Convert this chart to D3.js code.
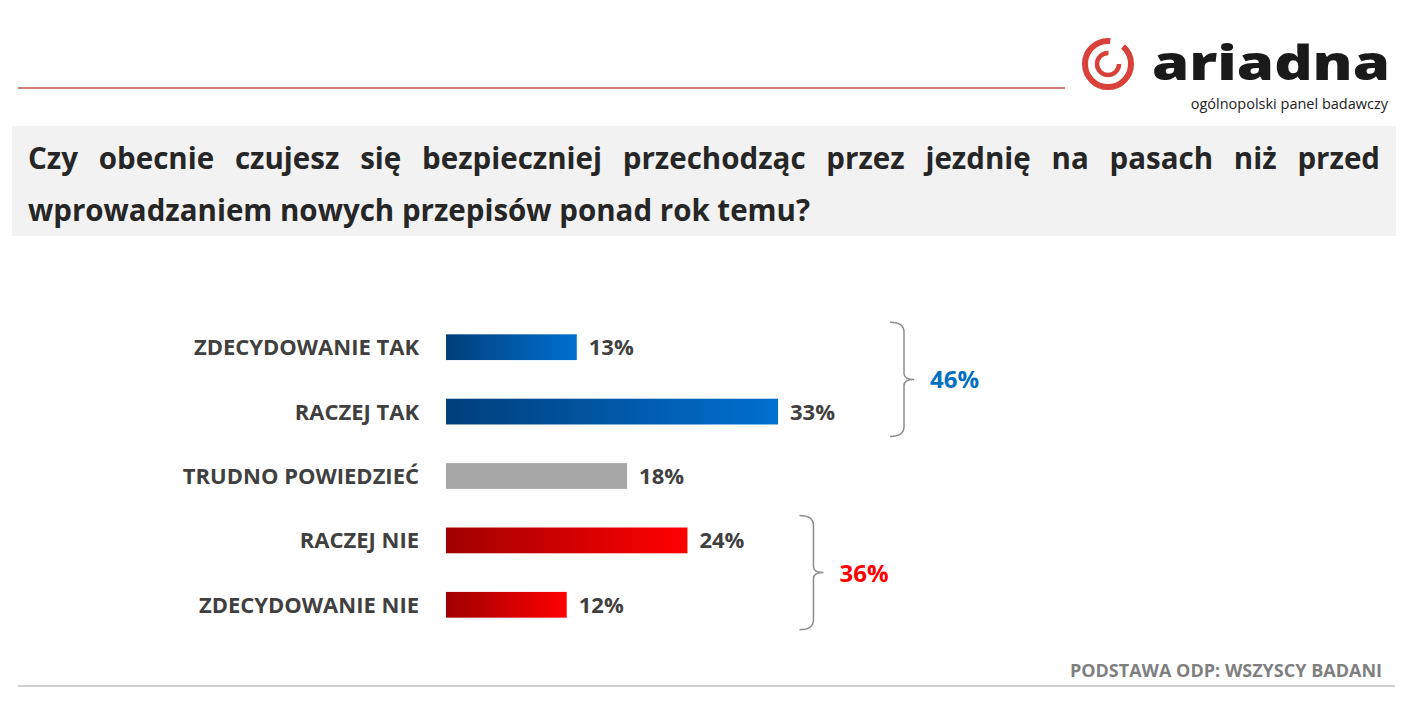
<!DOCTYPE html>
<html><head><meta charset="utf-8">
<script src="https://cdn.jsdelivr.net/npm/d3@7"></script>
<style>body{margin:0;background:#fff}svg{display:block;font-family:"Open Sans",sans-serif}</style>
</head><body>
<svg id="c" width="1410" height="705"></svg>
<script>
const categories = ["ZDECYDOWANIE TAK", "RACZEJ TAK", "TRUDNO POWIEDZIEĆ", "RACZEJ NIE", "ZDECYDOWANIE NIE"];
const values = [13, 33, 18, 24, 12];
const groups = [{label: "46%", from: 0, to: 1, color: "#0070c0"}, {label: "36%", from: 3, to: 4, color: "#ff0000"}];

const svg = d3.select("#c");
const defs = svg.append("defs");
const grads = {blue: ["#003f7a", "#0070d0"], grey: ["#a6a6a6", "#a6a6a6"], red: ["#a00000", "#ff0000"]};
Object.entries(grads).forEach(([k, c]) => {
  const g = defs.append("linearGradient").attr("id", "g-" + k);
  g.append("stop").attr("offset", 0).attr("stop-color", c[0]);
  g.append("stop").attr("offset", 1).attr("stop-color", c[1]);
});
const fillFor = i => i < 2 ? "url(#g-blue)" : i === 2 ? "url(#g-grey)" : "url(#g-red)";

// header
svg.append("line").attr("x1", 18).attr("x2", 1065).attr("y1", 88).attr("y2", 88).attr("stroke", "#c0504d").attr("stroke-width", 1.5);
const logo = svg.append("g");
logo.append("circle").attr("cx", 1108).attr("cy", 64).attr("r", 23).attr("fill", "none").attr("stroke", "#d8403a").attr("stroke-width", 6).attr("stroke-dasharray", "110 14");
logo.append("circle").attr("cx", 1108).attr("cy", 64).attr("r", 11).attr("fill", "none").attr("stroke", "#d8403a").attr("stroke-width", 4.5).attr("stroke-dasharray", "52 17");
logo.append("text").attr("x", 1152).attr("y", 80).attr("font-size", 48).attr("font-weight", 800).attr("fill", "#1a1a1a")
  .attr("textLength", 238).attr("lengthAdjust", "spacingAndGlyphs").text("ariadna");
logo.append("text").attr("x", 1388).attr("y", 109).attr("text-anchor", "end").attr("font-size", 14.5).attr("fill", "#222").text("ogólnopolski panel badawczy");

svg.append("rect").attr("x", 12).attr("y", 126).attr("width", 1384).attr("height", 110).attr("fill", "#f2f2f2");
const q = svg.append("text").attr("font-size", 29.5).attr("font-weight", 700).attr("fill", "#262626");
const line1 = q.append("tspan").attr("x", 28).attr("y", 169).text("Czy obecnie czujesz się bezpieczniej przechodząc przez jezdnię na pasach niż przed");
q.append("tspan").attr("x", 28).attr("y", 221).text("wprowadzaniem nowych przepisów ponad rok temu?");
// justify first line by word spacing
const w = line1.node().getComputedTextLength();
const gaps = line1.text().split(" ").length - 1;
line1.attr("word-spacing", Math.max(0, (1352 - w) / gaps));

// chart
const x = d3.scaleLinear().domain([0, 33]).range([446, 778]);
const y = d3.scaleBand().domain(categories).range([315, 637]).paddingInner(0.6).paddingOuter(0.3);

svg.selectAll(".bar").data(values).join("rect")
  .attr("x", x(0)).attr("y", (d, i) => y(categories[i]))
  .attr("width", d => x(d) - x(0)).attr("height", y.bandwidth()).attr("fill", (d, i) => fillFor(i));
svg.selectAll(".val").data(values).join("text")
  .attr("x", d => x(d) + 12).attr("y", (d, i) => y(categories[i]) + y.bandwidth() / 2 + 8)
  .attr("font-size", 22).attr("font-weight", 700).attr("fill", "#404040").text(d => d + "%");
svg.selectAll(".cat").data(categories).join("text")
  .attr("x", 419).attr("y", d => y(d) + y.bandwidth() / 2 + 8).attr("text-anchor", "end")
  .attr("font-size", 22).attr("font-weight", 700).attr("fill", "#404040").text(d => d);

// brackets
groups.forEach(g => {
  const y0 = y(categories[g.from]) - 12, y1 = y(categories[g.to]) + y.bandwidth() + 12;
  const bx = d3.max(values.slice(g.from, g.to + 1), v => x(v)) + 126;
  const m = (y0 + y1) / 2;
  svg.append("path").attr("fill", "none").attr("stroke", "#8c8c8c").attr("stroke-width", 1.5)
    .attr("d", `M${bx - 14},${y0} Q${bx},${y0} ${bx},${y0 + 10} L${bx},${m - 6} Q${bx},${m} ${bx + 10},${m} Q${bx},${m} ${bx},${m + 6} L${bx},${y1 - 10} Q${bx},${y1} ${bx - 14},${y1}`);
  svg.append("text").attr("x", bx + 26).attr("y", m + 9).attr("font-size", 24).attr("font-weight", 700).attr("fill", g.color).text(g.label);
});

svg.append("text").attr("x", 1382).attr("y", 677).attr("text-anchor", "end").attr("font-size", 18).attr("font-weight", 700).attr("fill", "#7f7f7f").text("PODSTAWA ODP: WSZYSCY BADANI");
svg.append("line").attr("x1", 18).attr("x2", 1395).attr("y1", 686).attr("y2", 686).attr("stroke", "#bfbfbf").attr("stroke-width", 1.5);
</script>
</body></html>
